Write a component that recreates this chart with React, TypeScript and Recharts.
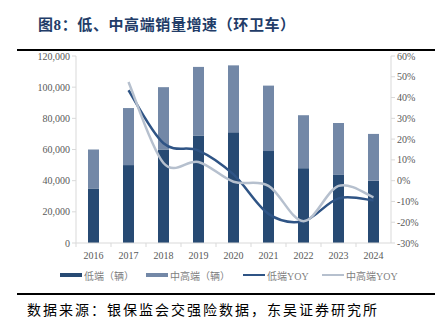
import React from 'react';
import { ComposedChart, Bar, Line, XAxis, YAxis } from 'recharts';

const years = ['2016', '2017', '2018', '2019', '2020', '2021', '2022', '2023', '2024'];
const lowSales = [35000, 50000, 60000, 69000, 71000, 59000, 48000, 44000, 40000];
const midHighSales = [25000, 36600, 40000, 44000, 43000, 42000, 34000, 33000, 30000];
const lowYoy = [null, 43.5, 18, 14.5, 3, -16, -19.5, -8.5, -9.5];
const midHighYoy = [null, 47.5, 8.5, 9, -0.5, -2.5, -19.5, -2.5, -8];
const leftTicks = [0, 20000, 40000, 60000, 80000, 100000, 120000];
const rightTicks = [-30, -20, -10, 0, 10, 20, 30, 40, 50, 60];

const legendItems = [
  { name: '低端（辆）', color: '#274a73', kind: 'bar', left: 60 },
  { name: '中高端（辆）', color: '#7388a7', kind: 'bar', left: 146 },
  { name: '低端YOY', color: '#2f5485', kind: 'line', left: 243 },
  { name: '中高端YOY', color: '#b6c0ce', kind: 'line', left: 322 },
];

const data = years.map((year, i) => ({
  year,
  low: lowSales[i],
  midHigh: midHighSales[i],
  lowYoy: lowYoy[i],
  midHighYoy: midHighYoy[i],
}));

// Excel-like smoothed line (catmull-rom through the points)
const smoothCurve = (ctx: any) => {
  let xs: number[] = [];
  let ys: number[] = [];
  return {
    areaStart() {},
    areaEnd() {},
    lineStart() {
      xs = [];
      ys = [];
    },
    point(x: number, y: number) {
      xs.push(+x);
      ys.push(+y);
    },
    lineEnd() {
      const n = xs.length;
      if (!n) return;
      ctx.moveTo(xs[0], ys[0]);
      for (let i = 0; i < n - 1; i++) {
        const a = Math.max(i - 1, 0);
        const b = Math.min(i + 2, n - 1);
        ctx.bezierCurveTo(
          xs[i] + (xs[i + 1] - xs[a]) / 6,
          ys[i] + (ys[i + 1] - ys[a]) / 6,
          xs[i + 1] - (xs[b] - xs[i]) / 6,
          ys[i + 1] - (ys[b] - ys[i]) / 6,
          xs[i + 1],
          ys[i + 1]
        );
      }
    },
  };
};

const serif = '"Liberation Serif", "Times New Roman", serif';
const tickFont = { fontSize: 10, fill: '#595959', style: { fontFamily: serif } };
const band = 315 / years.length;

const YearTick = ({ x, y, payload }: any) => (
  <g>
    <line x1={x - band / 2} x2={x - band / 2} y1={y - 8} y2={y - 4} stroke="#d9d9d9" />
    <text x={x} y={y + 8} textAnchor="middle" fontSize={10} fill="#595959" style={{ fontFamily: serif }}>
      {payload.value}
    </text>
  </g>
);

const App = () => {
  return (
    <div style={{ position: 'absolute', left: 0, top: 0, width: 445, height: 333, background: '#fff' }}>
      <div
        style={{
          position: 'absolute',
          left: 38,
          top: 14,
          fontFamily: '"Liberation Serif", "Noto Sans CJK SC", serif',
          fontWeight: 'bold',
          fontSize: 15,
          letterSpacing: 0.6,
          color: '#223c68',
          lineHeight: '22px',
          whiteSpace: 'nowrap',
        }}
      >
        图8：低、中高端销量增速（环卫车）
      </div>
      <div style={{ position: 'absolute', left: 17, top: 49, width: 418, height: 2, background: '#000' }} />

      <div style={{ position: 'absolute', left: 0, top: 0 }}>
        <ComposedChart width={445} height={273} data={data} margin={{ top: 56, right: 0, left: 0, bottom: 0 }} barSize={11}>
          <XAxis
            dataKey="year"
            height={30}
            axisLine={{ stroke: '#d9d9d9' }}
            tickLine={false}
            tick={<YearTick />}
            interval={0}
          />
          <YAxis
            yAxisId="left"
            width={76}
            domain={[0, 120000]}
            ticks={leftTicks}
            tickFormatter={(v: number) => v.toLocaleString('en-US')}
            axisLine={{ stroke: '#d9d9d9' }}
            tickLine={{ stroke: '#d9d9d9' }}
            tickSize={4}
            tick={tickFont}
          />
          <YAxis
            yAxisId="right"
            orientation="right"
            width={54}
            domain={[-30, 60]}
            ticks={rightTicks}
            tickFormatter={(v: number) => `${v}%`}
            axisLine={{ stroke: '#d9d9d9' }}
            tickLine={{ stroke: '#d9d9d9' }}
            tickSize={4}
            tick={tickFont}
          />
          <Bar yAxisId="left" dataKey="low" stackId="s" fill="#274a73" isAnimationActive={false} />
          <Bar yAxisId="left" dataKey="midHigh" stackId="s" fill="#7388a7" isAnimationActive={false} />
          <Line
            yAxisId="right"
            dataKey="lowYoy"
            type={smoothCurve as any}
            stroke="#2f5485"
            strokeWidth={2.5}
            dot={false}
            isAnimationActive={false}
          />
          <Line
            yAxisId="right"
            dataKey="midHighYoy"
            type={smoothCurve as any}
            stroke="#b6c0ce"
            strokeWidth={2.5}
            dot={false}
            isAnimationActive={false}
          />
        </ComposedChart>
      </div>

      {legendItems.map((item) => (
        <div
          key={item.name}
          style={{
            position: 'absolute',
            left: item.left,
            top: 268,
            height: 14,
            display: 'flex',
            alignItems: 'center',
            whiteSpace: 'nowrap',
          }}
        >
          <div style={{ width: 22, height: item.kind === 'bar' ? 4 : 2.5, background: item.color, marginRight: 2 }} />
          <span style={{ fontFamily: '"Liberation Serif", "Noto Sans CJK SC", serif', fontSize: 10, color: '#7f7f7f' }}>
            {item.name}
          </span>
        </div>
      ))}

      <div style={{ position: 'absolute', left: 17, top: 293, width: 418, height: 2, background: '#000' }} />
      <div
        style={{
          position: 'absolute',
          left: 27,
          top: 302,
          fontFamily: '"Liberation Serif", "Noto Sans CJK SC", serif',
          fontSize: 14,
          letterSpacing: 2,
          color: '#000',
          lineHeight: '18px',
          whiteSpace: 'nowrap',
        }}
      >
        数据来源：银保监会交强险数据，东吴证券研究所
      </div>
    </div>
  );
};

export default App;
